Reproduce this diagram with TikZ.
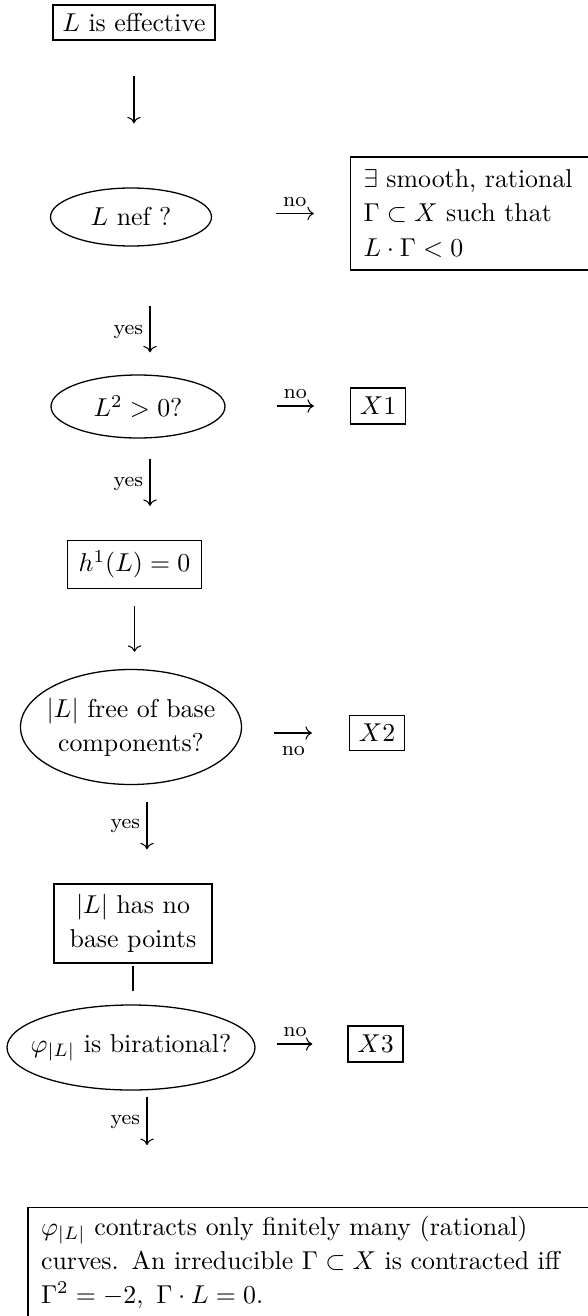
\documentclass[tikz,border=0pt]{standalone}
\usepackage{tikz}
\usetikzlibrary{arrows.meta,shapes.geometric}
\newlength{\unitpx}
\setlength{\unitpx}{0.387pt}
\newcommand{\nowd}[1]{\makebox[0pt]{#1}}
\tikzset{
    question/.style={draw, ellipse, line width=0.5pt, inner sep=0pt, align=center},
    factbox/.style={draw, rectangle, line width=0.5pt, inner sep=0pt, align=center},
    answer/.style={font=\footnotesize, inner sep=2.5pt}
}

\begin{document}
\begin{tikzpicture}[x=0.387pt, y=-0.387pt, >={To}, font=\fontsize{10}{13.2}\selectfont]
    \useasboundingbox (0,0) rectangle (588,1316);

    \node[factbox, minimum width=162\unitpx, minimum height=35\unitpx] (effective) at (134,22.5) {$L$ is effective};
    \node[question, minimum width=161\unitpx, minimum height=58\unitpx] (nef) at (131,217) {$L$ nef ?};
    \node[factbox, align=left, text width=215\unitpx, minimum height=113\unitpx, inner xsep=13\unitpx] (curve) at (471,213.5) {$\exists$ smooth, rational\\ $\Gamma\subset X$ such that\\ $L\cdot\Gamma<0$};
    \node[question, minimum width=174\unitpx, minimum height=63\unitpx] (square) at (138,406.5) {$L^2>0$?};
    \node[factbox, minimum width=55\unitpx, minimum height=36\unitpx] (xone) at (378,406) {$X1$};
    \node[factbox, minimum width=134\unitpx, minimum height=48\unitpx] (hone) at (134.5,564.5) {$h^1(L)=0$};
    \node[question, minimum width=221\unitpx, minimum height=115\unitpx] (free) at (131,727) {\nowd{$|L|$ free of base}\\ \nowd{components?}};
    \node[factbox, minimum width=55\unitpx, minimum height=35\unitpx] (xtwo) at (377,733) {$X2$};
    \node[factbox, minimum width=158\unitpx, minimum height=79\unitpx] (nobase) at (133,923.5) {$|L|$ has no\\ base points};
    \node[question, minimum width=248\unitpx, minimum height=85\unitpx] (birat) at (131,1047.5) {\nowd{$\varphi_{|L|}$ is birational?}};
    \node[factbox, minimum width=55\unitpx, minimum height=36\unitpx] (xthree) at (375.5,1044) {$X3$};
    \node[factbox, anchor=north west, align=left, text width=212pt, text depth=38pt, inner xsep=13\unitpx, inner ysep=8\unitpx] (contract) at (27.4,1207) {$\varphi_{|L|}$ contracts only finitely many (rational)\\ curves. An irreducible $\Gamma\subset X$ is contracted iff\\ $\Gamma^2=-2,\ \Gamma\cdot L=0$.};

    \draw[->, shorten <=35\unitpx, shorten >=64\unitpx] (effective.south) -- (effective.south |- nef.north);
    \draw[->, shorten <=59\unitpx, shorten >=22\unitpx] ([xshift=19\unitpx]nef.south) -- ([xshift=19\unitpx]nef.south |- square.north) node[answer, left, pos=0.67] {yes};
    \draw[->, shorten <=20\unitpx, shorten >=34\unitpx] ([xshift=12\unitpx]square.south) -- ([xshift=12\unitpx]square.south |- hone.north) node[answer, left, pos=0.45] {yes};
    \draw[->, shorten <=17\unitpx, shorten >=17\unitpx] (hone.south) -- (hone.south |- free.north);
    \draw[->, shorten <=17\unitpx, shorten >=34\unitpx] ([xshift=16\unitpx]free.south) -- ([xshift=16\unitpx]free.south |- nobase.north) node[answer, left, pos=0.42] {yes};
    \draw[shorten <=2\unitpx, shorten >=13\unitpx] (nobase.south) -- (nobase.south |- birat.north);
    \draw[->, shorten <=6\unitpx, shorten >=62\unitpx] ([xshift=16\unitpx]birat.south) -- ([xshift=16\unitpx]birat.south |- contract.north) node[answer, left, pos=0.27] {yes};

    \draw[->, shorten <=64\unitpx, shorten >=36\unitpx] (curve.west -| nef.east) -- (curve.west) node[answer, above, pos=0.6] {no};
    \draw[->, shorten <=51\unitpx, shorten >=36\unitpx] (xone.west -| square.east) -- (xone.west) node[answer, above, pos=0.56] {no};
    \draw[->, shorten <=32\unitpx, shorten >=37\unitpx] (xtwo.west -| free.east) -- (xtwo.west) node[answer, below=2.5pt, pos=0.48] {no};
    \draw[->, shorten <=21\unitpx, shorten >=35\unitpx] (xthree.west -| birat.east) -- (xthree.west) node[answer, above, pos=0.43] {no};
\end{tikzpicture}
\end{document}
